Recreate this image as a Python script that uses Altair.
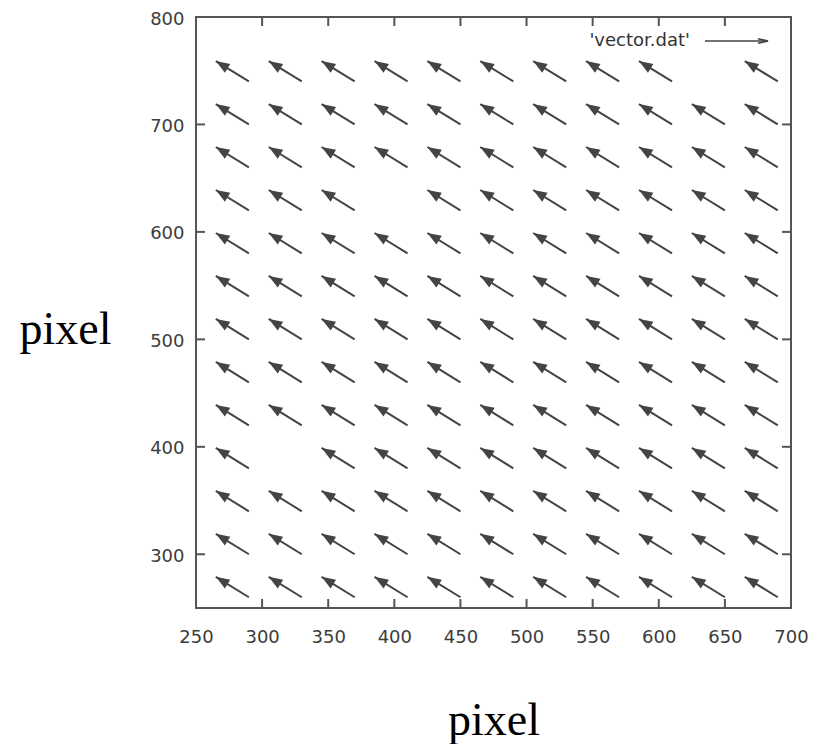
import math
import altair as alt
import pandas as pd

# ---- data ----
X_COLS = [290, 330, 370, 410, 450, 490, 530, 570, 610, 650, 690]
Y_ROWS = [260, 300, 340, 380, 420, 460, 500, 540, 580, 620, 660, 700, 740]
VEC_DX = -25
VEC_DY = 19
MISSING = [(650, 740), (410, 620), (330, 380)]
X_TICKS = [250, 300, 350, 400, 450, 500, 550, 600, 650, 700]
Y_TICKS = [300, 400, 500, 600, 700, 800]
LEGEND_LABEL = "'vector.dat'"

X_DOMAIN = [250, 700]
Y_DOMAIN = [250, 800]

W, H = 595, 591
ARROW_COLOR = "#444444"
FRAME_COLOR = "#555555"
LABEL_COLOR = "#3c3c3c"

rows = []
for yv in Y_ROWS:
    for xv in X_COLS:
        if (xv, yv) in MISSING:
            continue
        rows.append({"x": xv, "y": yv, "x2": xv + VEC_DX, "y2": yv + VEC_DY})
vec = pd.DataFrame(rows)

sx = W / (X_DOMAIN[1] - X_DOMAIN[0])
sy = H / (Y_DOMAIN[1] - Y_DOMAIN[0])
head_angle = math.degrees(math.atan2(-VEC_DY * sy, VEC_DX * sx)) % 360

xs = alt.Scale(domain=X_DOMAIN, nice=False, zero=False)
ys = alt.Scale(domain=Y_DOMAIN, nice=False, zero=False)

x_axis = alt.Axis(
    values=X_TICKS, ticks=False, domain=False, grid=False,
    labelFont="DejaVu Sans", labelFontSize=18, labelColor=LABEL_COLOR,
    labelPadding=20, labelFlush=False,
    title="pixel", titleFont="Liberation Serif", titleFontSize=46,
    titleFontWeight="normal", titleColor="#000000",
    titleY=126, titleBaseline="alphabetic",
)
y_axis = alt.Axis(
    values=Y_TICKS, ticks=False, domain=False, grid=False,
    labelFont="DejaVu Sans", labelFontSize=18, labelColor=LABEL_COLOR,
    labelPadding=12, labelFlush=False, labelOffset=2,
    title="pixel", titleFont="Liberation Serif", titleFontSize=46,
    titleFontWeight="normal", titleColor="#000000",
    titleAngle=0, titleAlign="center", titleBaseline="alphabetic",
    titleX=-131, titleY=326,
)

base = alt.Chart(vec)

shafts = base.mark_rule(color=ARROW_COLOR, strokeWidth=2).encode(
    x=alt.X("x:Q", scale=xs, axis=x_axis),
    y=alt.Y("y:Q", scale=ys, axis=y_axis),
    x2="x2:Q",
    y2="y2:Q",
)

heads = base.mark_point(
    shape="M0,0L-2,-0.75L-2,0.75Z", filled=True, size=190,
    angle=head_angle, color=ARROW_COLOR, opacity=1,
).encode(
    x=alt.X("x2:Q", scale=xs),
    y=alt.Y("y2:Q", scale=ys),
)

# inward ticks on all four sides
xt = pd.DataFrame({"v": X_TICKS})
yt = pd.DataFrame({"v": Y_TICKS})
TL = 9
tick_b = alt.Chart(xt).mark_rule(color=FRAME_COLOR, strokeWidth=2).encode(
    x=alt.X("v:Q", scale=xs), y=alt.value(H), y2=alt.value(H - TL))
tick_t = alt.Chart(xt).mark_rule(color=FRAME_COLOR, strokeWidth=2).encode(
    x=alt.X("v:Q", scale=xs), y=alt.value(0), y2=alt.value(TL))
tick_l = alt.Chart(yt).mark_rule(color=FRAME_COLOR, strokeWidth=2).encode(
    y=alt.Y("v:Q", scale=ys), x=alt.value(0), x2=alt.value(TL))
tick_r = alt.Chart(yt).mark_rule(color=FRAME_COLOR, strokeWidth=2).encode(
    y=alt.Y("v:Q", scale=ys), x=alt.value(W), x2=alt.value(W - TL))

# key (legend) in the top-right corner
leg_df = pd.DataFrame({"t": [LEGEND_LABEL]})
leg_text = alt.Chart(leg_df).mark_text(
    align="right", baseline="middle", font="DejaVu Sans", fontSize=18,
    color="#333333",
).encode(text="t:N", x=alt.value(494), y=alt.value(24))
leg_line = alt.Chart(leg_df).mark_rule(color=ARROW_COLOR, strokeWidth=1.6).encode(
    x=alt.value(509), x2=alt.value(572), y=alt.value(24))
leg_head = alt.Chart(leg_df).mark_point(
    shape="M-2,-0.45L0,0L-2,0.45", filled=False, size=100,
    color=ARROW_COLOR, strokeWidth=1.6, opacity=1,
).encode(x=alt.value(572), y=alt.value(24))

chart = alt.layer(
    shafts, heads, tick_b, tick_t, tick_l, tick_r, leg_text, leg_line, leg_head
).properties(
    width=W, height=H,
    background="white",
    padding={"left": 188, "top": 9, "right": 19, "bottom": 136},
    autosize=alt.AutoSizeParams(type="none"),
).configure_view(
    stroke=FRAME_COLOR, strokeWidth=2
)

chart.save("out.html", embed_options={"renderer": "svg", "actions": False})
